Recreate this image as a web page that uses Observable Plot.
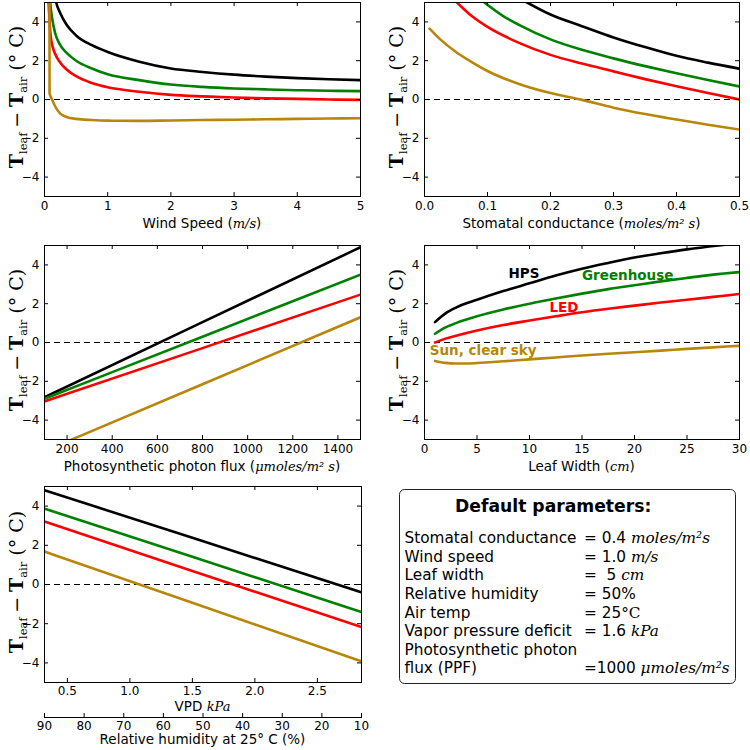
<!DOCTYPE html>
<html><head><meta charset="utf-8">
<script src="https://cdn.jsdelivr.net/npm/d3@7"></script>
<script src="https://cdn.jsdelivr.net/npm/@observablehq/plot@0.6"></script>
<style>
body{margin:0;background:#fff;}
#root{position:relative;width:750px;height:750px;font-family:"DejaVu Sans";overflow:hidden;}
#root > svg{position:absolute;overflow:visible;max-width:none;}
text{white-space:pre;}
</style></head><body><div id="root"></div>
<script>
// ---------- shared ----------
const seriesNames = ["HPS", "Greenhouse", "LED", "Sun, clear sky"];
const seriesColors = ["#000000", "#008000", "#ff0000", "#b8860b"];
const yTicks = [-4, -2, 0, 2, 4];
const yDomain = [-5, 5];
const yLabelParts = [["T", "b"], ["leaf", "sub"], ["\u2005−\u2005", ""], ["T", "b"], ["air", "sub"], [" (° C)", ""]];

// ---------- panel 1: wind speed ----------
const windTicks = [0, 1, 2, 3, 4, 5];
const windHPS = [[0.15,5.6],[0.185,5.0],[0.25,4.45],[0.35,3.85],[0.5,3.3],[0.75,2.8],[1,2.45],[1.5,1.95],[2,1.6],[2.5,1.42],[3,1.28],[3.5,1.18],[4,1.1],[4.5,1.04],[5,1.0]];
const windGreen = [[0.08,5.4],[0.09,5.0],[0.12,4.2],[0.17,3.4],[0.25,2.8],[0.35,2.4],[0.5,2.0],[0.75,1.6],[1,1.3],[1.5,1.0],[2,0.77],[2.5,0.65],[3,0.57],[3.5,0.52],[4,0.48],[4.5,0.45],[5,0.43]];
const windLED = [[0.06,5.4],[0.065,5.0],[0.08,4.0],[0.1,3.2],[0.14,2.6],[0.2,2.15],[0.25,1.9],[0.35,1.55],[0.5,1.2],[0.75,0.85],[1,0.63],[1.5,0.4],[2,0.24],[2.5,0.16],[3,0.1],[3.5,0.06],[4,0.03],[4.5,0.0],[5,-0.02]];
const windSun = [[0.078,5.5],[0.08,0.32],[0.12,0.0],[0.17,-0.36],[0.25,-0.73],[0.35,-0.9],[0.5,-1.0],[0.75,-1.06],[1,-1.09],[1.5,-1.1],[2,-1.08],[2.5,-1.06],[3,-1.04],[3.5,-1.02],[4,-1.0],[4.5,-0.98],[5,-0.97]];

// ---------- panel 2: stomatal conductance ----------
const gsTicks = [0, 0.1, 0.2, 0.3, 0.4, 0.5];
const gsHPS = [[0.16,5.05],[0.2,4.38],[0.25,3.78],[0.3,3.2],[0.35,2.7],[0.4,2.25],[0.45,1.9],[0.5,1.59]];
const gsGreen = [[0.095,5.0],[0.125,4.3],[0.15,3.85],[0.2,3.1],[0.25,2.56],[0.3,2.12],[0.35,1.72],[0.4,1.35],[0.45,1.0],[0.5,0.67]];
const gsLED = [[0.05,5.05],[0.075,4.3],[0.1,3.74],[0.15,2.92],[0.2,2.3],[0.25,1.85],[0.3,1.45],[0.35,1.05],[0.4,0.68],[0.45,0.33],[0.5,0.0]];
const gsSun = [[0.008,3.65],[0.025,3.1],[0.05,2.45],[0.075,1.93],[0.1,1.47],[0.15,0.8],[0.2,0.33],[0.25,-0.02],[0.3,-0.42],[0.35,-0.75],[0.4,-1.03],[0.45,-1.3],[0.5,-1.55]];

// ---------- panel 3: PPF ----------
const ppfTicks = [200, 400, 600, 800, 1000, 1200, 1400];
const ppfHPS = [[100,-2.82],[800,1.05],[1500,4.91]];
const ppfGreen = [[100,-2.9],[800,0.3],[1500,3.5]];
const ppfLED = [[100,-3.04],[800,-0.29],[1500,2.47]];
const ppfSun = [[221,-5.0],[800,-2.15],[1500,1.3]];

// ---------- panel 4: leaf width ----------
const lwTicks = [0, 5, 10, 15, 20, 25, 30];
const lwHPS = [[1,1.05],[2,1.5],[3,1.8],[5,2.2],[7.5,2.65],[10,3.05],[12.5,3.45],[15,3.8],[17.5,4.1],[20,4.38],[22.5,4.6],[25,4.8],[28,5.0],[30,5.12]];
const lwGreen = [[1,0.45],[2,0.78],[3,1.0],[5,1.35],[7.5,1.7],[10,2.0],[12.5,2.27],[15,2.52],[17.5,2.75],[20,2.95],[22.5,3.15],[25,3.33],[27.5,3.5],[30,3.63]];
const lwLED = [[1,0.0],[2,0.2],[3,0.35],[5,0.62],[7.5,0.9],[10,1.13],[12.5,1.35],[15,1.56],[17.5,1.74],[20,1.9],[22.5,2.06],[25,2.2],[27.5,2.35],[30,2.5]];
const lwSun = [[1,-0.95],[2,-1.05],[3,-1.08],[4,-1.08],[5,-1.06],[7.5,-0.97],[10,-0.87],[12.5,-0.77],[15,-0.67],[17.5,-0.58],[20,-0.5],[22.5,-0.42],[25,-0.33],[27.5,-0.25],[30,-0.17]];
const lwLabelX = [8.0, 15.0, 11.9, 0.5];
const lwLabelY = [3.3, 3.22, 1.56, -0.67];

// ---------- panel 5: VPD ----------
const vpdDomain = [0.317, 2.853];
const vpdTicks = [0.5, 1.0, 1.5, 2.0, 2.5];
const vpdHPS = [[0.317,4.81],[1.5,2.38],[2.853,-0.4]];
const vpdGreen = [[0.317,3.87],[1.5,1.42],[2.853,-1.41]];
const vpdLED = [[0.317,3.21],[1.5,0.69],[2.853,-2.17]];
const vpdSun = [[0.317,1.68],[1.5,-0.93],[2.853,-3.92]];
const rhDomain = [90, 10];
const rhTicks = [90, 80, 70, 60, 50, 40, 30, 20, 10];

// ---------- parameter box ----------
const paramTitle = "Default parameters:";
const paramNames = ["Stomatal conductance", "Wind speed", "Leaf width", "Relative humidity", "Air temp", "Vapor pressure deficit", "Photosynthetic photon", "flux (PPF)"];
const paramValues = ["= 0.4 ", "= 1.0 ", "=  5 ", "= 50%", "= 25", "= 1.6 ", "", "=1000 "];
const paramUnits = ["moles/m²s", "m/s", "cm", "", "°C", "kPa", "", "μmoles/m²s"];

// ---------- helpers ----------
const root = document.getElementById("root");
const TICK_FS = 12;

function rowsOf(list) {
  return list.flatMap((pts, i) => pts.map(([x, y]) => ({series: seriesNames[i], x, y})));
}

function addParts(textSel, parts, size) {
  for (const [s, kind] of parts) {
    const t = textSel.append("tspan").text(s);
    if (kind === "it") t.attr("font-family", "DejaVu Serif").attr("font-style", "italic").attr("font-size", size - 0.5);
  }
}

function addYLabel(svg, x, cy) {
  const t = d3.select(svg).append("text")
    .attr("transform", `translate(${x},${cy}) rotate(-90)`)
    .attr("text-anchor", "middle").attr("font-family", "DejaVu Serif").attr("fill", "#000");
  let shifted = false;
  for (const [s, kind] of yLabelParts) {
    const ts = t.append("tspan").text(s);
    if (kind === "sub") { ts.attr("font-size", 11.5).attr("dy", 4); shifted = true; }
    else {
      ts.attr("font-size", 19);
      if (shifted) { ts.attr("dy", -4); shifted = false; }
      if (kind === "b") ts.attr("font-weight", "bold");
    }
  }
}

function panel({rows, xDomain, xTicks, xFormat, left, top, width, height, mt, mr, mb, ml, xLabel, xLabelDy = 32, tickPad = 5, extra = []}) {
  const fh = height - mt - mb, fw = width - ml - mr;
  const svg = Plot.plot({
    width, height, marginTop: mt, marginRight: mr, marginBottom: mb, marginLeft: ml,
    style: {fontFamily: "DejaVu Sans", fontSize: "12px", background: "transparent", color: "#000"},
    x: {domain: xDomain, label: null},
    y: {domain: yDomain, label: null},
    color: {domain: seriesNames, range: seriesColors},
    marks: [
      Plot.ruleY([0], {stroke: "#000", strokeWidth: 1, strokeDasharray: "6,4"}),
      Plot.line(rows, {x: "x", y: "y", z: "series", stroke: "series", strokeWidth: 2.6, curve: "monotone-x", clip: true}),
      ...extra,
      Plot.tickX(xTicks, {x: d => d, insetTop: fh - 4, stroke: "#000"}),
      Plot.tickX(xTicks, {x: d => d, insetBottom: fh - 4, stroke: "#000"}),
      Plot.tickY(yTicks, {y: d => d, insetRight: fw - 4, stroke: "#000"}),
      Plot.tickY(yTicks, {y: d => d, insetLeft: fw - 4, stroke: "#000"}),
      Plot.axisX(xTicks, {tickSize: 0, tickPadding: tickPad, tickFormat: xFormat, label: null, fontSize: TICK_FS}),
      Plot.axisY(yTicks, {tickSize: 0, tickPadding: 5, label: null, fontSize: TICK_FS}),
      Plot.frame({stroke: "#000", strokeWidth: 1})
    ]
  });
  svg.style.left = left + "px";
  svg.style.top = top + "px";
  root.appendChild(svg);
  const xl = d3.select(svg).append("text")
    .attr("x", ml + fw / 2).attr("y", height - mb + xLabelDy)
    .attr("text-anchor", "middle").attr("font-size", 13.5).attr("fill", "#000").attr("font-family", "DejaVu Sans");
  addParts(xl, xLabel, 13.5);
  addYLabel(svg, ml - 21, mt + fh / 2 - 2);
  return svg;
}

// ---------- panels ----------
panel({rows: rowsOf([windHPS, windGreen, windLED, windSun]), xDomain: [0, 5], xTicks: windTicks, xFormat: d3.format("d"),
  left: 0, top: 0, width: 375, height: 240, mt: 2, mr: 15, mb: 44, ml: 44,
  xLabel: [["Wind Speed (", ""], ["m/s", "it"], [")", ""]]});

panel({rows: rowsOf([gsHPS, gsGreen, gsLED, gsSun]), xDomain: [0, 0.5], xTicks: gsTicks, xFormat: d3.format(".1f"),
  left: 375, top: 0, width: 375, height: 240, mt: 2, mr: 11, mb: 44, ml: 49,
  xLabel: [["Stomatal conductance (", ""], ["moles/m² s", "it"], [")", ""]]});

panel({rows: rowsOf([ppfHPS, ppfGreen, ppfLED, ppfSun]), xDomain: [100, 1500], xTicks: ppfTicks, xFormat: d3.format("d"),
  left: 0, top: 240, width: 375, height: 240, mt: 5, mr: 15, mb: 41, ml: 44,
  xLabel: [["Photosynthetic photon flux (", ""], ["μmoles/m² s", "it"], [")", ""]]});

const lwLabels = seriesNames.map((s, i) => ({series: s, x: lwLabelX[i], y: lwLabelY[i]}));
panel({rows: rowsOf([lwHPS, lwGreen, lwLED, lwSun]), xDomain: [0, 30], xTicks: lwTicks, xFormat: d3.format("d"),
  left: 375, top: 240, width: 375, height: 240, mt: 5, mr: 11, mb: 41, ml: 49,
  xLabel: [["Leaf Width (", ""], ["cm", "it"], [")", ""]],
  extra: [Plot.text(lwLabels, {x: "x", y: "y", text: "series", fill: "series", fontWeight: "bold", fontSize: 13.5, textAnchor: "start", lineAnchor: "bottom"})]});

panel({rows: rowsOf([vpdHPS, vpdGreen, vpdLED, vpdSun]), xDomain: vpdDomain, xTicks: vpdTicks, xFormat: d3.format(".1f"),
  left: 0, top: 480, width: 375, height: 240, mt: 6, mr: 14, mb: 38, ml: 44, xLabelDy: 29, tickPad: 3.5,
  xLabel: [["VPD ", ""], ["kPa", "it"]]});

// secondary relative-humidity axis
{
  const width = 375, height = 50, mt = 13, mb = 33, ml = 44, mr = 14;
  const svg = Plot.plot({
    width, height, marginTop: mt, marginBottom: mb, marginLeft: ml, marginRight: mr,
    style: {fontFamily: "DejaVu Sans", fontSize: "12px", background: "transparent", color: "#000"},
    x: {domain: rhDomain, label: null},
    marks: [
      Plot.tickX(rhTicks, {x: d => d, stroke: "#000"}),
      Plot.frame({anchor: "bottom", stroke: "#000"}),
      Plot.axisX(rhTicks, {tickSize: 0, tickPadding: 3.5, label: null, tickFormat: d3.format("d"), fontSize: TICK_FS})
    ]
  });
  svg.style.left = "0px"; svg.style.top = "700px";
  root.appendChild(svg);
  d3.select(svg).append("text").attr("x", ml + (width - ml - mr) / 2).attr("y", height - mb + 27)
    .attr("text-anchor", "middle").attr("font-size", 13.5).attr("fill", "#000").attr("font-family", "DejaVu Sans")
    .text("Relative humidity at 25° C (%)");
}

// parameter box
{
  const svg = d3.create("svg").attr("width", 360).attr("height", 220)
    .style("left", "390px").style("top", "480px");
  svg.append("rect").attr("x", 9.5).attr("y", 9.5).attr("width", 336).attr("height", 194).attr("rx", 5)
    .attr("fill", "#fff").attr("stroke", "#222").attr("stroke-width", 1);
  svg.append("text").attr("x", 65).attr("y", 31.5).attr("font-size", 17.2).attr("font-weight", "bold")
    .attr("font-family", "DejaVu Sans").attr("fill", "#000").text(paramTitle);
  paramNames.forEach((name, i) => {
    const y = 63.3 + i * 18.57;
    svg.append("text").attr("x", 14.5).attr("y", y).attr("font-size", 15.3).attr("font-family", "DejaVu Sans").attr("fill", "#000").text(name);
    if (paramValues[i]) {
      const t = svg.append("text").attr("x", 194).attr("y", y).attr("font-size", 15.3).attr("font-family", "DejaVu Sans").attr("fill", "#000");
      t.append("tspan").text(paramValues[i]);
      if (paramUnits[i]) {
        const u = t.append("tspan").attr("font-family", "DejaVu Serif").text(paramUnits[i]);
        if (paramUnits[i] !== "°C") u.attr("font-style", "italic");
      }
    }
  });
  root.appendChild(svg.node());
}
</script></body></html>
